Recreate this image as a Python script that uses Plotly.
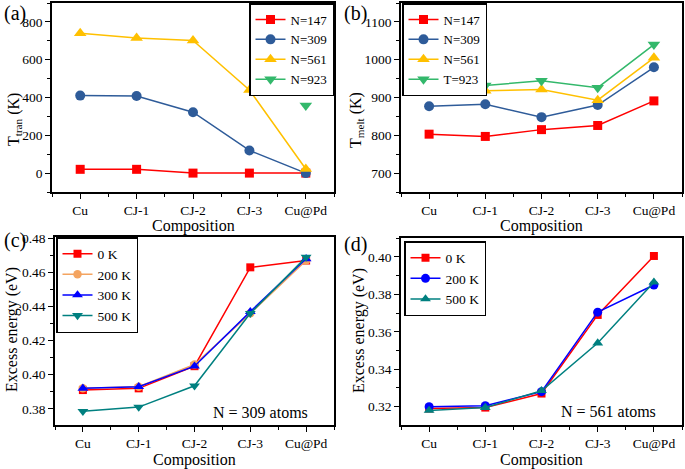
import plotly.graph_objects as go

W, H = 685, 469
categories = ["Cu", "CJ-1", "CJ-2", "CJ-3", "Cu@Pd"]

# Panel (a): T_tran
a_n147 = [20, 20, 0, 0, 0]
a_n309 = [410, 408, 322, 120, 0]
a_n561 = [740, 715, 702, 440, 22]
a_n923 = [None, None, None, None, 358]

# Panel (b): T_melt
b_n147 = [803, 797, 815, 826, 891]
b_n309 = [877, 882, 848, 880, 980]
b_n561 = [921, 918, 921, 893, 1005]
b_t923 = [946, 932, 944, 926, 1040]

# Panel (c): excess energy, N = 309
c_0k = [0.391, 0.392, 0.405, 0.463, 0.467]
c_200k = [0.392, 0.393, 0.406, 0.436, 0.467]
c_300k = [0.392, 0.393, 0.405, 0.437, 0.468]
c_500k = [0.3785, 0.381, 0.3935, 0.436, 0.469]

# Panel (d): excess energy, N = 561
d_0k = [0.319, 0.3195, 0.327, 0.369, 0.4005]
d_200k = [0.320, 0.3205, 0.328, 0.3705, 0.385]
d_500k = [0.318, 0.3195, 0.3285, 0.354, 0.3865]

FONT = "Liberation Serif"
RED = "#FF0000"
NAVY = "#2E5B99"
GOLD = "#FFC000"
GREEN = "#33B86B"
ORANGE = "#F4A460"
BLUE = "#0000FF"
TEAL = "#008080"

xpos = list(range(len(categories)))

fig = go.Figure()


def px_x(p):
    return p / W


def px_y(p):
    return 1 - p / H


def add(xa, ya, y, name, color, symbol, legend, size):
    fig.add_trace(go.Scatter(
        x=xpos, y=y, name=name, mode="lines+markers",
        line=dict(color=color, width=1.5),
        marker=dict(color=color, symbol=symbol, size=size),
        xaxis=xa, yaxis=ya, legend=legend, connectgaps=False,
    ))


add("x", "y", a_n147, "N=147", RED, "square", "legend", 9)
add("x", "y", a_n309, "N=309", NAVY, "circle", "legend", 10)
add("x", "y", a_n561, "N=561", GOLD, "triangle-up", "legend", 11)
add("x", "y", a_n923, "N=923", GREEN, "triangle-down", "legend", 11)

add("x2", "y2", b_n147, "N=147", RED, "square", "legend2", 9)
add("x2", "y2", b_n309, "N=309", NAVY, "circle", "legend2", 10)
add("x2", "y2", b_n561, "N=561", GOLD, "triangle-up", "legend2", 11)
add("x2", "y2", b_t923, "T=923", GREEN, "triangle-down", "legend2", 11)

add("x3", "y3", c_0k, "0 K", RED, "square", "legend3", 8)
add("x3", "y3", c_200k, "200 K", ORANGE, "circle", "legend3", 8.5)
add("x3", "y3", c_300k, "300 K", BLUE, "triangle-up", "legend3", 9.5)
add("x3", "y3", c_500k, "500 K", TEAL, "triangle-down", "legend3", 9.5)

add("x4", "y4", d_0k, "0 K", RED, "square", "legend4", 8)
add("x4", "y4", d_200k, "200 K", BLUE, "circle", "legend4", 9)
add("x4", "y4", d_500k, "500 K", TEAL, "triangle-up", "legend4", 9.5)

panels = {
    "": dict(x=(52, 334), y=(3, 192), yr=[-100, 900], dt=200, fmt="",
             title="T<sub>tran</sub> (K)", tx=14, ty=120, cx=226),
    "2": dict(x=(401, 682), y=(3, 192), yr=[650, 1150], dt=100, fmt="",
              title="T<sub>melt</sub> (K)", tx=356, ty=120, cx=226),
    "3": dict(x=(55, 334), y=(237, 425), yr=[0.3705, 0.4808], dt=0.02, fmt=".2f",
              title="Excess energy (eV)", tx=12, ty=330, cx=460),
    "4": dict(x=(401, 682), y=(238, 425), yr=[0.3102, 0.4101], dt=0.02, fmt=".2f",
              title="Excess energy (eV)", tx=359, ty=331, cx=460),
}

axis_font = dict(family=FONT, size=13.5, color="black")
title_font = dict(family=FONT, size=16, color="black")

ann = []
for k, p in panels.items():
    fig.layout["xaxis" + k] = dict(
        domain=[px_x(p["x"][0]), px_x(p["x"][1])], anchor="y" + k,
        range=[-0.5, 4.5], tickmode="array", tickvals=xpos, ticktext=categories,
        showline=True, linecolor="black", linewidth=1.5,
        mirror=True, ticks="outside", ticklen=5, tickwidth=1.2, tickcolor="black",
        minor=dict(ticks="outside", ticklen=3, tickwidth=1.2, tickcolor="black",
                   tickmode="linear", tick0=0.5, dtick=1),
        showgrid=False, zeroline=False, tickfont=axis_font,
    )
    fig.layout["yaxis" + k] = dict(
        domain=[px_y(p["y"][1]), px_y(p["y"][0])], anchor="x" + k,
        range=p["yr"], dtick=p["dt"], tickformat=p["fmt"],
        showline=True, linecolor="black", linewidth=1.5,
        mirror=True, ticks="outside", ticklen=5, tickwidth=1.2, tickcolor="black",
        showgrid=False, zeroline=False, tickfont=axis_font,
        minor=dict(ticks="outside", ticklen=3, tickwidth=1.2, tickcolor="black",
                   dtick=p["dt"] / 2),
    )
    ann.append(dict(text="Composition", x=px_x((p["x"][0] + p["x"][1]) / 2), y=px_y(p["cx"]),
                    xref="paper", yref="paper", xanchor="center", yanchor="middle",
                    showarrow=False, font=title_font))
    ann.append(dict(text=p["title"], x=px_x(p["tx"]), y=px_y(p["ty"]), textangle=-90,
                    xref="paper", yref="paper", xanchor="center", yanchor="middle",
                    showarrow=False, font=title_font))


def leg(x, y, xanchor, size):
    return dict(
        x=px_x(x), y=px_y(y), xanchor=xanchor, yanchor="top",
        bgcolor="white", bordercolor="black", borderwidth=1.5,
        font=dict(family=FONT, size=size, color="black"),
        tracegroupgap=0, itemsizing="trace", itemwidth=30,
    )


fig.update_layout(
    legend=leg(334, 3, "right", 13),
    legend2=leg(402, 3, "left", 13),
    legend3=leg(56, 237, "left", 13.5),
    legend4=leg(404, 241, "left", 13.5),
)

for txt, x, y in [("(a)", 2, 14), ("(b)", 342, 14), ("(c)", 2, 240), ("(d)", 342, 245)]:
    ann.append(dict(text=txt, x=px_x(x), y=px_y(y), xref="paper", yref="paper",
                    xanchor="left", yanchor="middle", showarrow=False,
                    font=dict(family=FONT, size=20, color="black")))
ann.append(dict(text="N = 309 atoms", x=px_x(310), y=px_y(412), xref="paper", yref="paper",
                xanchor="right", yanchor="middle", showarrow=False,
                font=dict(family=FONT, size=16, color="black")))
ann.append(dict(text="N = 561 atoms", x=px_x(658), y=px_y(411), xref="paper", yref="paper",
                xanchor="right", yanchor="middle", showarrow=False,
                font=dict(family=FONT, size=16, color="black")))

fig.update_layout(
    width=W, height=H, margin=dict(l=0, r=0, t=0, b=0, autoexpand=False),
    paper_bgcolor="white", plot_bgcolor="white",
    annotations=ann, showlegend=True,
    font=dict(family=FONT, color="black"),
)

fig.write_html("out.html", config={"displayModeBar": False},
               post_script="document.body.style.margin='0';document.body.style.padding='0';")
